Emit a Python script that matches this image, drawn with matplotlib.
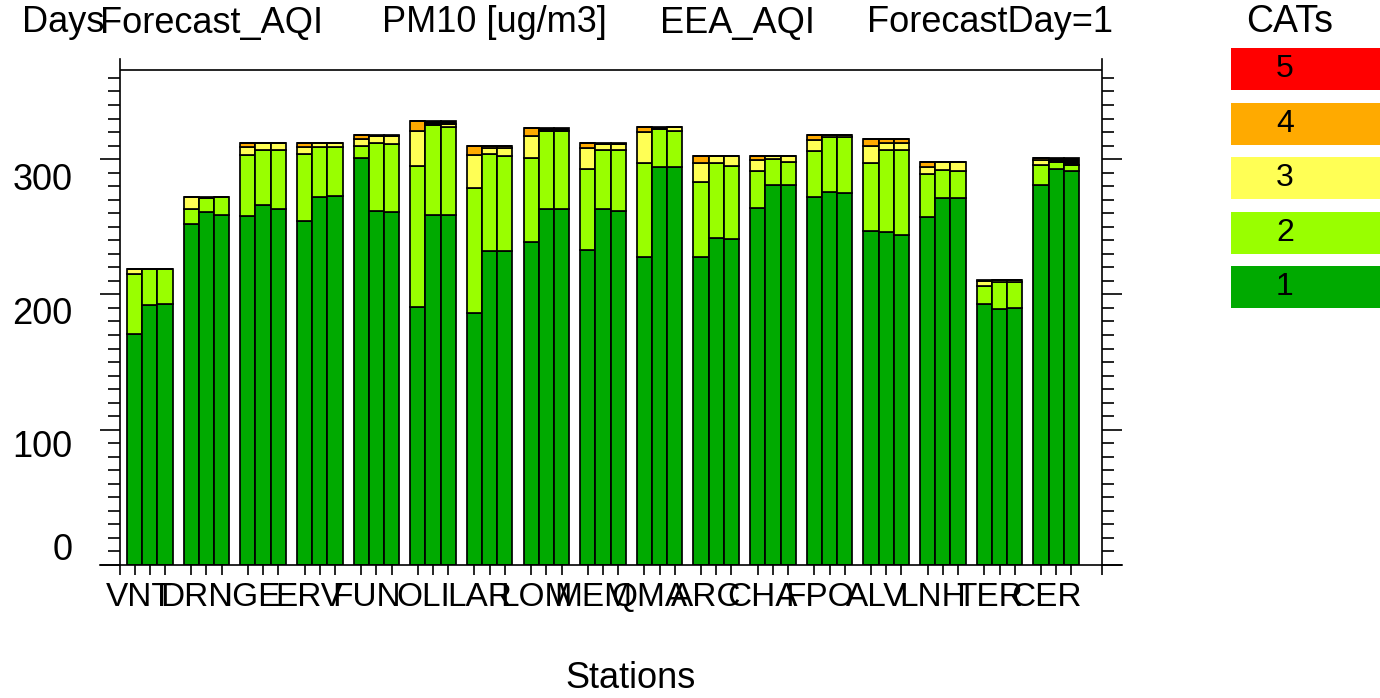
import matplotlib
matplotlib.use('Agg')
import numpy as np
import matplotlib.pyplot as plt
from matplotlib.patches import Rectangle
from matplotlib.lines import Line2D

plt.rcParams['font.family'] = ['Liberation Sans', 'DejaVu Sans']

stations = ['VNT', 'DRN', 'IGE', 'ERV', 'FUN', 'OLI', 'LAR', 'LOM', 'MEM',
            'QMA', 'ARC', 'CHA', 'FPO', 'ALV', 'LNH', 'TER', 'CER']

# days per AQI category, three bars per station
cat1 = [(171, 192, 193), (252, 261, 259), (258, 266, 263), (254, 272, 273),
        (301, 262, 261), (191, 259, 259), (186, 232, 232), (239, 263, 263),
        (233, 263, 262), (228, 294, 294), (228, 242, 241), (264, 281, 281),
        (272, 276, 275), (247, 246, 244), (257, 271, 271), (193, 189, 190),
        (281, 293, 291)]
cat2 = [(44, 27, 26), (11, 10, 13), (45, 41, 44), (50, 37, 36),
        (9, 50, 50), (104, 66, 65), (93, 72, 70), (62, 58, 58),
        (60, 44, 45), (69, 28, 27), (55, 55, 54), (27, 19, 17),
        (34, 40, 41), (50, 61, 63), (32, 21, 20), (13, 20, 19),
        (15, 5, 5)]
cat3 = [(4, 0, 0), (9, 0, 0), (6, 5, 5), (5, 3, 3),
        (5, 5, 6), (26, 0, 2), (24, 4, 6), (16, 0, 0),
        (15, 4, 4), (23, 0, 3), (14, 5, 7), (8, 2, 4),
        (8, 2, 2), (13, 5, 5), (5, 6, 7), (4, 2, 2),
        (3, 0, 0)]
cat4 = [(0, 0, 0), (0, 0, 0), (3, 0, 0), (3, 0, 0),
        (3, 0, 0), (7, 0, 0), (7, 2, 2), (6, 0, 0),
        (4, 0, 0), (4, 0, 0), (5, 0, 0), (3, 0, 0),
        (4, 0, 0), (5, 3, 3), (4, 0, 0), (0, 0, 0),
        (2, 0, 0)]
cat5 = [(0, 0, 0)] * 17
no_cat = [(0, 0, 0), (0, 1, 0), (0, 0, 0), (0, 0, 0),
          (0, 1, 1), (0, 3, 2), (0, 0, 0), (0, 2, 2),
          (0, 1, 1), (0, 2, 0), (0, 0, 0), (0, 0, 0),
          (0, 0, 0), (0, 0, 0), (0, 0, 0), (1, 0, 0),
          (0, 3, 5)]

cat_names = ['1', '2', '3', '4', '5']
cat_colors = ['#00AA00', '#99FF00', '#FFFF55', '#FFAA00', '#FF0000']

layers = [cat1, cat2, cat3, cat4, cat5, no_cat]
layer_colors = cat_colors + ['black']

fig = plt.figure(figsize=(13.8, 6.98), dpi=100)
ax = fig.add_axes([119.5 / 1380, 133 / 698, 982.2 / 1380, 506 / 698])

n = len(stations)
pitch = 3.726
group_start = 0.49 + np.arange(n) * pitch
centers = []
for j in range(3):
    x = group_start + 0.5 + j
    centers.extend(x)
    bottom = np.zeros(n)
    for vals, col in zip(layers, layer_colors):
        v = np.array([row[j] for row in vals], dtype=float)
        ax.bar(x, v, width=1.0, bottom=bottom, color=col,
               edgecolor='black', linewidth=1.25)
        bottom += v

xmax = 64.6
ax.set_xlim(0, xmax)
ax.set_ylim(0, 374)

for s in ['top', 'bottom']:
    ax.spines[s].set_visible(False)
for s in ['left', 'right']:
    ax.spines[s].set_linewidth(1.2)
ax.axhline(366, color='black', lw=1.2)
ext = 20 / 982.2
ax.add_line(Line2D([-ext, 1 + ext], [0, 0], transform=ax.transAxes,
                   color='black', lw=1.2, clip_on=False))

# y ticks
ax.set_yticks([0, 100, 200, 300])
ax.set_yticks(np.arange(0, 361, 10), minor=True)
ax.tick_params(axis='y', which='both', left=True, right=True, direction='out',
               labelleft=False, width=1.2)
ax.tick_params(axis='y', which='major', length=14.5)
ax.tick_params(axis='y', which='minor', length=8.5)
for val, dy in [(0, 14), (100, -18), (200, -20), (300, -21)]:
    ax.annotate(str(val), xy=(0, val), xycoords=('axes fraction', 'data'),
                xytext=(-47, dy), textcoords='offset pixels',
                ha='right', va='center', fontsize=26)

# x ticks: marks at every bar, labels slightly left of each group's middle bar
label_pos = group_start + 1.5 - 0.66
ax.set_xticks(label_pos, stations)
ax.set_xticks(sorted(centers + [0, xmax]), minor=True)
ax.tick_params(axis='x', which='major', length=0, labelsize=24, pad=12)
ax.tick_params(axis='x', which='minor', direction='out', length=7.5, width=1.2)

fig.text(22 / 1380, 1 - 23 / 698, 'Days', fontsize=26, va='center')
fig.text(100 / 1380, 1 - 23 / 698, 'Forecast_AQI', fontsize=26, va='center')
fig.text(382 / 1380, 1 - 23 / 698, 'PM10 [ug/m3]', fontsize=26, va='center')
fig.text(660 / 1380, 1 - 23 / 698, 'EEA_AQI', fontsize=26, va='center')
fig.text(867 / 1380, 1 - 23 / 698, 'ForecastDay=1', fontsize=26, va='center')
fig.text(631 / 1380, 1 - 678 / 698, 'Stations', fontsize=26, ha='center', va='center')

# category legend
fig.text(1290 / 1380, 1 - 22 / 698, 'CATs', fontsize=27, ha='center', va='center')
for k in range(5):
    idx = 4 - k
    top = 48 + k * 54.5
    fig.add_artist(Rectangle((1231 / 1380, 1 - (top + 42) / 698), 149 / 1380, 42 / 698,
                             transform=fig.transFigure, facecolor=cat_colors[idx],
                             edgecolor='none'))
    fig.text(1285 / 1380, 1 - (top + 21) / 698, cat_names[idx], fontsize=23,
             ha='center', va='center')

fig.savefig('out.png', dpi=100)
